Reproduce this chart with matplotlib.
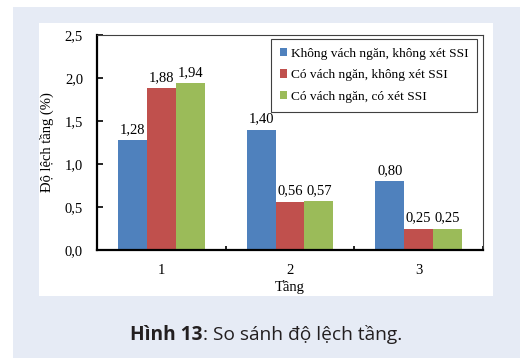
"""
Story drift comparison bar chart (Hình 13)
"""
import numpy as np
import matplotlib
matplotlib.use("Agg")
import matplotlib.pyplot as plt
from matplotlib.patches import Rectangle

# data
floors = ["1", "2", "3"]
series_names = [
    "Không vách ngăn, không xét SSI",
    "Có vách ngăn, không xét SSI",
    "Có vách ngăn, có xét SSI",
]
no_wall_no_ssi = [1.28, 1.40, 0.80]
wall_no_ssi = [1.88, 0.56, 0.25]
wall_ssi = [1.94, 0.57, 0.25]
y_ticks = [0.0, 0.5, 1.0, 1.5, 2.0, 2.5]

colors = ["#4F81BD", "#C0504D", "#9BBB59"]
serif = ["Liberation Serif", "DejaVu Serif"]

W, H = 520, 358
fig = plt.figure(figsize=(W / 100, H / 100), dpi=100)
fig.patch.set_facecolor("white")


def px_rect(x0, y0, x1, y1, color):
    """Figure-level rectangle given in pixel coords (origin top-left)."""
    fig.patches.append(Rectangle((x0 / W, 1 - y1 / H), (x1 - x0) / W, (y1 - y0) / H,
                                 transform=fig.transFigure, facecolor=color,
                                 edgecolor="none", zorder=-10))


px_rect(13, 7, 520, 358, "#E6EBF5")
px_rect(39, 23, 493, 296, "white")

ax = fig.add_axes([97 / W, 1 - 250 / H, 386 / W, 215 / H])
ax.set_facecolor("white")

x = np.arange(len(floors))
bw = 0.225
all_series = [no_wall_no_ssi, wall_no_ssi, wall_ssi]
for i, (vals, name, c) in enumerate(zip(all_series, series_names, colors)):
    bars = ax.bar(x + (i - 1) * bw, vals, width=bw, color=c, label=name, zorder=2)
    for b, v in zip(bars, vals):
        ax.annotate(f"{v:.2f}".replace(".", ","),
                    (b.get_x() + b.get_width() / 2, v),
                    xytext=(0, 3), textcoords="offset points",
                    ha="center", va="bottom", fontsize=10.5, family=serif)

ax.set_xlim(-0.5, len(floors) - 0.5)
ax.set_ylim(0, 2.5)
ax.set_yticks(y_ticks)
ax.set_yticklabels([f"{t:.1f}".replace(".", ",") for t in y_ticks],
                   family=serif, fontsize=10.5)
ax.set_xticks(x)
ax.set_xticklabels(floors, family=serif, fontsize=10.5)
ax.tick_params(axis="x", length=0, pad=10)
ax.tick_params(axis="y", direction="in", length=4, width=1.2, pad=10)
# category separator ticks on the x axis
ax.set_xticks(np.arange(len(floors) + 1) - 0.5, minor=True)
ax.tick_params(axis="x", which="minor", direction="in", length=3, width=1.2)

for side in ["left", "bottom"]:
    ax.spines[side].set_linewidth(1.6)
for side in ["top", "right"]:
    ax.spines[side].set_linewidth(0.8)
    ax.spines[side].set_color("#404040")

ax.set_ylabel("Độ lệch tầng (%)", family=serif, fontsize=10.5, labelpad=8)
ax.set_xlabel("Tầng", family=serif, fontsize=10.5, labelpad=2)

leg = ax.legend(loc="upper right", bbox_to_anchor=(477 / W, 1 - 39 / H),
                bbox_transform=fig.transFigure, borderaxespad=0,
                prop={"family": serif, "size": 9.6}, fancybox=False,
                edgecolor="#404040", framealpha=1, handlelength=0.5,
                handleheight=0.6, handletextpad=0.3, labelspacing=0.72,
                borderpad=0.65)
leg.get_frame().set_linewidth(0.8)

# caption: bold figure number followed by regular text
cap_font = ["Open Sans", "DejaVu Sans"]
fig.canvas.draw()
r = fig.canvas.get_renderer()
t1 = fig.text(0, 0, "Hình 13", fontsize=13.8, weight="bold", family=cap_font,
              color="#231F20")
t2 = fig.text(0, 0, ": So sánh độ lệch tầng.", fontsize=13.8, family=cap_font,
              color="#231F20")
w1 = t1.get_window_extent(r).width
w2 = t2.get_window_extent(r).width
x0 = 266 - (w1 + w2) / 2
ybase = 1 - 340 / H
t1.set_position((x0 / W, ybase))
t2.set_position(((x0 + w1) / W, ybase))

fig.savefig("out.png", dpi=100)
